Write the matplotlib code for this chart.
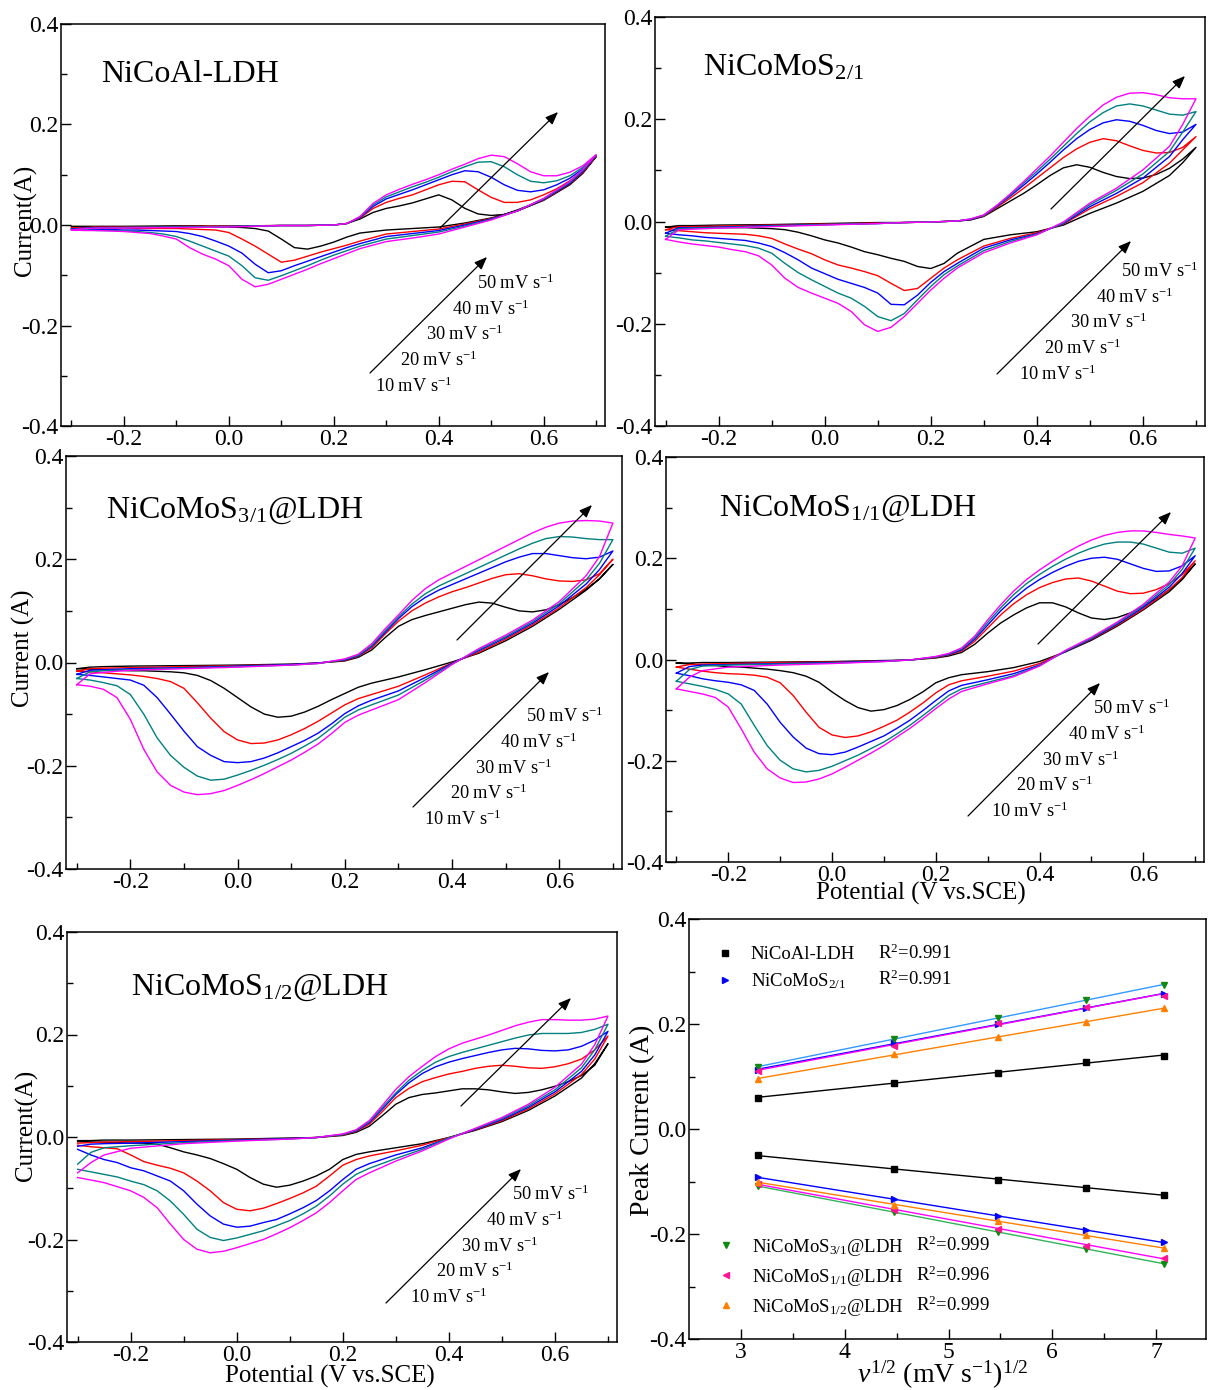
import matplotlib
matplotlib.use("Agg")
import matplotlib.pyplot as plt
import numpy as np
from matplotlib.lines import Line2D
from matplotlib.patches import FancyArrowPatch
from matplotlib.ticker import FixedLocator

plt.rcParams["font.family"] = ["Liberation Serif", "DejaVu Serif"]
plt.rcParams["mathtext.fontset"] = "custom"
plt.rcParams["mathtext.rm"] = "Liberation Serif"
plt.rcParams["mathtext.it"] = "Liberation Serif:italic"
plt.rcParams["mathtext.bf"] = "Liberation Serif:bold"
plt.rcParams["axes.unicode_minus"] = False

W, H = 1208, 1390

# potential grids (V vs SCE) for the forward (anodic) and reverse (cathodic) sweeps
E_FWD = [-0.3, -0.275, -0.25, -0.2, -0.1, 0.0, 0.1, 0.15,
         0.2, 0.225, 0.25, 0.275, 0.3, 0.325, 0.35, 0.375, 0.4, 0.425, 0.45, 0.475,
         0.5, 0.525, 0.55, 0.575, 0.6, 0.625, 0.65, 0.675, 0.7]
E_REV = [-0.3, -0.275, -0.25, -0.225, -0.2, -0.175, -0.15, -0.125, -0.1, -0.075, -0.05, -0.025,
         0.0, 0.025, 0.05, 0.075, 0.1, 0.125, 0.15, 0.175, 0.2, 0.225, 0.25,
         0.3, 0.35, 0.4, 0.45, 0.5, 0.55, 0.6, 0.65, 0.675, 0.7]

RATES = [10, 20, 30, 40, 50]
COLORS = ["black", "red", "blue", "#008080", "magenta"]

# ---- NiCoAl-LDH, current (A), rows = 10..50 mV/s
ldh_fwd = [
    [-0.003, -0.003, -0.003, -0.003, -0.002, -0.002, -0.001, -0.001,
     0.000, 0.003, 0.012, 0.025, 0.033, 0.038, 0.044, 0.052, 0.060, 0.050, 0.033, 0.022,
     0.019, 0.021, 0.030, 0.040, 0.052, 0.066, 0.083, 0.105, 0.136],
    [-0.006, -0.005, -0.004, -0.004, -0.003, -0.002, -0.001, -0.001,
     0.000, 0.003, 0.014, 0.033, 0.045, 0.053, 0.060, 0.070, 0.080, 0.087, 0.086, 0.070,
     0.055, 0.045, 0.045, 0.050, 0.060, 0.072, 0.088, 0.108, 0.137],
    [-0.008, -0.006, -0.005, -0.005, -0.004, -0.003, -0.001, -0.001,
     0.000, 0.003, 0.015, 0.037, 0.052, 0.061, 0.070, 0.080, 0.090, 0.100, 0.108, 0.106,
     0.095, 0.080, 0.069, 0.066, 0.070, 0.080, 0.093, 0.112, 0.138],
    [-0.009, -0.007, -0.006, -0.005, -0.004, -0.003, -0.001, -0.001,
     0.000, 0.003, 0.016, 0.040, 0.056, 0.066, 0.076, 0.085, 0.095, 0.106, 0.116, 0.125,
     0.126, 0.116, 0.100, 0.087, 0.084, 0.088, 0.098, 0.115, 0.139],
    [-0.010, -0.007, -0.006, -0.006, -0.005, -0.004, -0.001, -0.001,
     0.000, 0.003, 0.017, 0.043, 0.060, 0.071, 0.081, 0.090, 0.100, 0.111, 0.121, 0.132,
     0.139, 0.136, 0.122, 0.106, 0.098, 0.098, 0.105, 0.118, 0.140],
]
ldh_rev = [
    [-0.003, -0.003, -0.003, -0.003, -0.003, -0.003, -0.003, -0.003, -0.003, -0.003, -0.003, -0.004,
     -0.004, -0.005, -0.007, -0.012, -0.028, -0.045, -0.048, -0.042, -0.034, -0.024, -0.016,
     -0.010, -0.007, -0.004, 0.004, 0.014, 0.028, 0.049, 0.080, 0.103, 0.136],
    [-0.006, -0.006, -0.006, -0.006, -0.006, -0.007, -0.007, -0.007, -0.007, -0.008, -0.009, -0.010,
     -0.015, -0.028, -0.042, -0.058, -0.074, -0.070, -0.062, -0.054, -0.047, -0.040, -0.032,
     -0.018, -0.013, -0.008, 0.002, 0.013, 0.028, 0.050, 0.082, 0.105, 0.137],
    [-0.008, -0.008, -0.009, -0.009, -0.010, -0.010, -0.011, -0.012, -0.013, -0.017, -0.023, -0.032,
     -0.042, -0.056, -0.078, -0.095, -0.091, -0.081, -0.072, -0.063, -0.054, -0.045, -0.037,
     -0.023, -0.017, -0.011, 0.000, 0.012, 0.028, 0.051, 0.083, 0.107, 0.138],
    [-0.009, -0.010, -0.011, -0.011, -0.012, -0.013, -0.015, -0.018, -0.023, -0.032, -0.042, -0.052,
     -0.062, -0.081, -0.105, -0.110, -0.101, -0.091, -0.081, -0.070, -0.060, -0.051, -0.042,
     -0.028, -0.021, -0.014, -0.002, 0.011, 0.028, 0.052, 0.085, 0.109, 0.139],
    [-0.010, -0.011, -0.011, -0.012, -0.013, -0.015, -0.017, -0.022, -0.028, -0.045, -0.058, -0.068,
     -0.081, -0.108, -0.123, -0.118, -0.108, -0.098, -0.088, -0.077, -0.067, -0.057, -0.047,
     -0.033, -0.026, -0.018, -0.004, 0.010, 0.028, 0.053, 0.087, 0.111, 0.140],
]

# ---- NiCoMoS 2/1
mos21_fwd = [
    [-0.011, -0.008, -0.008, -0.007, -0.006, -0.004, -0.002, -0.002,
     -0.001, 0.000, 0.001, 0.003, 0.010, 0.025, 0.040, 0.055, 0.072, 0.090, 0.105, 0.111,
     0.106, 0.096, 0.088, 0.084, 0.085, 0.092, 0.104, 0.122, 0.145],
    [-0.016, -0.010, -0.010, -0.009, -0.007, -0.005, -0.003, -0.002,
     -0.001, 0.000, 0.001, 0.004, 0.011, 0.028, 0.046, 0.065, 0.085, 0.105, 0.125, 0.142,
     0.155, 0.162, 0.158, 0.148, 0.139, 0.134, 0.135, 0.145, 0.166],
    [-0.023, -0.012, -0.012, -0.011, -0.008, -0.006, -0.004, -0.002,
     -0.001, 0.000, 0.001, 0.004, 0.012, 0.030, 0.050, 0.071, 0.093, 0.116, 0.140, 0.162,
     0.180, 0.193, 0.199, 0.196, 0.188, 0.178, 0.172, 0.175, 0.190],
    [-0.029, -0.014, -0.013, -0.012, -0.009, -0.006, -0.004, -0.002,
     -0.001, 0.000, 0.001, 0.005, 0.012, 0.031, 0.052, 0.075, 0.098, 0.122, 0.147, 0.172,
     0.195, 0.213, 0.226, 0.230, 0.226, 0.218, 0.210, 0.208, 0.215],
    [-0.035, -0.016, -0.015, -0.013, -0.010, -0.007, -0.004, -0.002,
     -0.001, 0.000, 0.001, 0.005, 0.013, 0.032, 0.054, 0.078, 0.103, 0.128, 0.155, 0.182,
     0.206, 0.228, 0.243, 0.251, 0.252, 0.248, 0.242, 0.240, 0.240],
]
mos21_rev = [
    [-0.011, -0.011, -0.012, -0.012, -0.012, -0.012, -0.012, -0.013, -0.014, -0.016, -0.021, -0.028,
     -0.036, -0.042, -0.050, -0.059, -0.065, -0.072, -0.078, -0.088, -0.092, -0.082, -0.062,
     -0.035, -0.026, -0.020, -0.007, 0.016, 0.036, 0.059, 0.090, 0.115, 0.145],
    [-0.016, -0.018, -0.020, -0.022, -0.023, -0.024, -0.025, -0.028, -0.033, -0.044, -0.054, -0.063,
     -0.075, -0.085, -0.091, -0.098, -0.106, -0.121, -0.135, -0.131, -0.111, -0.091, -0.075,
     -0.048, -0.033, -0.022, -0.005, 0.025, 0.049, 0.076, 0.114, 0.140, 0.166],
    [-0.023, -0.026, -0.028, -0.031, -0.033, -0.035, -0.037, -0.042, -0.049, -0.061, -0.075, -0.091,
     -0.102, -0.113, -0.121, -0.129, -0.140, -0.162, -0.163, -0.144, -0.119, -0.098, -0.082,
     -0.052, -0.036, -0.024, -0.004, 0.029, 0.055, 0.085, 0.127, 0.160, 0.190],
    [-0.029, -0.032, -0.036, -0.038, -0.041, -0.044, -0.047, -0.052, -0.062, -0.082, -0.100, -0.114,
     -0.127, -0.140, -0.150, -0.166, -0.186, -0.194, -0.180, -0.153, -0.127, -0.104, -0.087,
     -0.057, -0.039, -0.025, -0.003, 0.033, 0.061, 0.093, 0.137, 0.175, 0.215],
    [-0.035, -0.040, -0.044, -0.047, -0.050, -0.055, -0.059, -0.067, -0.085, -0.111, -0.129, -0.140,
     -0.150, -0.160, -0.176, -0.202, -0.215, -0.207, -0.186, -0.160, -0.134, -0.111, -0.091,
     -0.061, -0.042, -0.026, -0.001, 0.036, 0.065, 0.101, 0.147, 0.190, 0.240],
]

# ---- NiCoMoS 3/1 @LDH
mos31_fwd = [
    [-0.012, -0.009, -0.008, -0.007, -0.006, -0.005, -0.003, -0.001,
     0.003, 0.010, 0.024, 0.048, 0.070, 0.083, 0.091, 0.098, 0.105, 0.112, 0.117, 0.115,
     0.107, 0.100, 0.098, 0.102, 0.112, 0.126, 0.142, 0.162, 0.190],
    [-0.017, -0.012, -0.011, -0.010, -0.008, -0.006, -0.004, -0.001,
     0.004, 0.012, 0.028, 0.055, 0.080, 0.100, 0.115, 0.127, 0.137, 0.145, 0.154, 0.163,
     0.170, 0.172, 0.168, 0.162, 0.158, 0.157, 0.160, 0.172, 0.200],
    [-0.023, -0.015, -0.014, -0.012, -0.010, -0.007, -0.004, -0.001,
     0.005, 0.013, 0.031, 0.058, 0.085, 0.108, 0.126, 0.140, 0.151, 0.162, 0.173, 0.184,
     0.195, 0.204, 0.211, 0.211, 0.207, 0.203, 0.201, 0.204, 0.216],
    [-0.031, -0.018, -0.016, -0.014, -0.011, -0.008, -0.005, -0.002,
     0.006, 0.014, 0.033, 0.061, 0.088, 0.113, 0.133, 0.148, 0.160, 0.172, 0.184, 0.196,
     0.208, 0.220, 0.231, 0.240, 0.244, 0.243, 0.240, 0.238, 0.238],
    [-0.043, -0.022, -0.019, -0.015, -0.012, -0.009, -0.005, -0.002,
     0.007, 0.016, 0.036, 0.065, 0.092, 0.120, 0.143, 0.160, 0.173, 0.186, 0.199, 0.212,
     0.225, 0.238, 0.251, 0.262, 0.270, 0.274, 0.275, 0.274, 0.270],
]
mos31_rev = [
    [-0.012, -0.013, -0.014, -0.015, -0.016, -0.016, -0.017, -0.018, -0.020, -0.025, -0.035, -0.050,
     -0.068, -0.086, -0.100, -0.106, -0.104, -0.096, -0.085, -0.072, -0.060, -0.048, -0.040,
     -0.028, -0.014, 0.001, 0.018, 0.042, 0.070, 0.103, 0.140, 0.162, 0.190],
    [-0.017, -0.018, -0.020, -0.022, -0.024, -0.027, -0.031, -0.037, -0.050, -0.078, -0.108, -0.134,
     -0.150, -0.157, -0.156, -0.150, -0.140, -0.128, -0.114, -0.098, -0.082, -0.070, -0.062,
     -0.046, -0.024, -0.001, 0.020, 0.045, 0.073, 0.106, 0.145, 0.170, 0.200],
    [-0.023, -0.025, -0.028, -0.031, -0.034, -0.044, -0.068, -0.100, -0.133, -0.163, -0.180, -0.192,
     -0.194, -0.192, -0.185, -0.175, -0.163, -0.151, -0.137, -0.119, -0.099, -0.084, -0.073,
     -0.055, -0.029, -0.002, 0.023, 0.048, 0.076, 0.110, 0.152, 0.180, 0.216],
    [-0.031, -0.034, -0.039, -0.045, -0.062, -0.100, -0.146, -0.180, -0.203, -0.220, -0.228, -0.226,
     -0.218, -0.209, -0.199, -0.188, -0.176, -0.162, -0.147, -0.127, -0.106, -0.092, -0.082,
     -0.063, -0.034, -0.003, 0.025, 0.050, 0.079, 0.114, 0.160, 0.192, 0.238],
    [-0.043, -0.046, -0.052, -0.068, -0.110, -0.168, -0.212, -0.238, -0.251, -0.256, -0.254, -0.248,
     -0.238, -0.227, -0.215, -0.202, -0.189, -0.174, -0.158, -0.138, -0.116, -0.102, -0.092,
     -0.072, -0.039, -0.004, 0.027, 0.053, 0.082, 0.118, 0.168, 0.205, 0.270],
]

# ---- NiCoMoS 1/1 @LDH
mos11_fwd = [
    [-0.007, -0.007, -0.006, -0.006, -0.005, -0.004, -0.002, -0.001,
     0.003, 0.007, 0.014, 0.030, 0.052, 0.072, 0.088, 0.102, 0.112, 0.112, 0.104, 0.092,
     0.082, 0.079, 0.083, 0.092, 0.105, 0.120, 0.138, 0.160, 0.189],
    [-0.015, -0.010, -0.009, -0.008, -0.006, -0.005, -0.003, -0.001,
     0.004, 0.009, 0.017, 0.036, 0.062, 0.088, 0.110, 0.128, 0.142, 0.152, 0.159, 0.161,
     0.155, 0.145, 0.135, 0.130, 0.131, 0.138, 0.150, 0.168, 0.195],
    [-0.027, -0.014, -0.011, -0.010, -0.008, -0.006, -0.003, -0.001,
     0.005, 0.010, 0.019, 0.040, 0.068, 0.096, 0.120, 0.141, 0.158, 0.172, 0.184, 0.194,
     0.200, 0.202, 0.198, 0.189, 0.180, 0.174, 0.175, 0.185, 0.205],
    [-0.043, -0.020, -0.013, -0.011, -0.009, -0.007, -0.004, -0.001,
     0.005, 0.011, 0.021, 0.043, 0.073, 0.102, 0.128, 0.150, 0.168, 0.184, 0.198, 0.210,
     0.220, 0.228, 0.232, 0.232, 0.228, 0.220, 0.212, 0.210, 0.220],
    [-0.058, -0.035, -0.022, -0.015, -0.011, -0.008, -0.004, -0.001,
     0.006, 0.012, 0.023, 0.046, 0.078, 0.108, 0.135, 0.158, 0.177, 0.194, 0.210, 0.224,
     0.236, 0.245, 0.251, 0.254, 0.254, 0.251, 0.247, 0.244, 0.240],
]
mos11_rev = [
    [-0.007, -0.009, -0.011, -0.012, -0.014, -0.015, -0.017, -0.019, -0.022, -0.026, -0.033, -0.045,
     -0.064, -0.081, -0.095, -0.102, -0.099, -0.091, -0.079, -0.064, -0.046, -0.036, -0.030,
     -0.024, -0.016, -0.004, 0.015, 0.038, 0.066, 0.098, 0.134, 0.158, 0.189],
    [-0.015, -0.019, -0.023, -0.026, -0.028, -0.029, -0.031, -0.035, -0.046, -0.071, -0.104, -0.134,
     -0.149, -0.154, -0.151, -0.143, -0.132, -0.120, -0.104, -0.086, -0.066, -0.050, -0.042,
     -0.033, -0.023, -0.008, 0.016, 0.040, 0.068, 0.100, 0.138, 0.162, 0.195],
    [-0.027, -0.032, -0.038, -0.042, -0.045, -0.050, -0.061, -0.088, -0.124, -0.153, -0.175, -0.186,
     -0.188, -0.183, -0.173, -0.162, -0.151, -0.136, -0.120, -0.101, -0.081, -0.062, -0.051,
     -0.040, -0.028, -0.011, 0.016, 0.041, 0.070, 0.103, 0.143, 0.170, 0.205],
    [-0.043, -0.048, -0.053, -0.059, -0.068, -0.088, -0.130, -0.170, -0.199, -0.216, -0.222, -0.219,
     -0.211, -0.200, -0.189, -0.176, -0.163, -0.147, -0.130, -0.111, -0.091, -0.071, -0.058,
     -0.045, -0.032, -0.012, 0.017, 0.042, 0.072, 0.106, 0.148, 0.178, 0.220],
    [-0.058, -0.063, -0.068, -0.075, -0.094, -0.137, -0.183, -0.216, -0.234, -0.243, -0.242, -0.236,
     -0.226, -0.213, -0.199, -0.185, -0.170, -0.153, -0.136, -0.117, -0.097, -0.078, -0.063,
     -0.048, -0.034, -0.013, 0.018, 0.044, 0.074, 0.109, 0.153, 0.185, 0.240],
]

# ---- NiCoMoS 1/2 @LDH
mos12_fwd = [
    [-0.007, -0.007, -0.006, -0.006, -0.005, -0.004, -0.002, -0.001,
     0.003, 0.009, 0.021, 0.042, 0.064, 0.077, 0.083, 0.086, 0.090, 0.094, 0.094, 0.092,
     0.088, 0.085, 0.087, 0.092, 0.099, 0.108, 0.120, 0.140, 0.182],
    [-0.012, -0.011, -0.010, -0.009, -0.007, -0.005, -0.003, -0.001,
     0.004, 0.011, 0.025, 0.050, 0.077, 0.095, 0.108, 0.116, 0.123, 0.128, 0.134, 0.138,
     0.140, 0.138, 0.135, 0.134, 0.137, 0.143, 0.152, 0.170, 0.197],
    [-0.018, -0.014, -0.013, -0.012, -0.009, -0.006, -0.003, -0.001,
     0.005, 0.012, 0.028, 0.055, 0.083, 0.106, 0.124, 0.137, 0.146, 0.153, 0.159, 0.165,
     0.170, 0.173, 0.172, 0.169, 0.168, 0.170, 0.177, 0.189, 0.206],
    [-0.053, -0.030, -0.021, -0.017, -0.011, -0.007, -0.004, -0.001,
     0.005, 0.013, 0.030, 0.058, 0.086, 0.111, 0.130, 0.146, 0.157, 0.165, 0.172, 0.179,
     0.186, 0.193, 0.199, 0.202, 0.202, 0.202, 0.204, 0.210, 0.220],
    [-0.070, -0.050, -0.035, -0.022, -0.013, -0.008, -0.004, -0.001,
     0.006, 0.014, 0.032, 0.062, 0.093, 0.118, 0.138, 0.157, 0.172, 0.183, 0.191, 0.199,
     0.208, 0.217, 0.224, 0.229, 0.229, 0.228, 0.228, 0.230, 0.236],
]
mos12_rev = [
    [-0.009, -0.010, -0.010, -0.011, -0.012, -0.012, -0.014, -0.021, -0.029, -0.035, -0.042, -0.052,
     -0.063, -0.079, -0.092, -0.098, -0.094, -0.086, -0.076, -0.063, -0.044, -0.034, -0.029,
     -0.021, -0.013, -0.001, 0.013, 0.030, 0.052, 0.080, 0.115, 0.143, 0.182],
    [-0.016, -0.019, -0.021, -0.023, -0.035, -0.048, -0.055, -0.061, -0.070, -0.086, -0.105, -0.128,
     -0.141, -0.144, -0.139, -0.130, -0.120, -0.109, -0.096, -0.076, -0.055, -0.044, -0.037,
     -0.027, -0.016, -0.001, 0.014, 0.032, 0.055, 0.084, 0.122, 0.152, 0.197],
    [-0.024, -0.035, -0.044, -0.050, -0.060, -0.066, -0.076, -0.086, -0.105, -0.131, -0.154, -0.170,
     -0.176, -0.174, -0.167, -0.161, -0.150, -0.138, -0.124, -0.105, -0.083, -0.063, -0.052,
     -0.035, -0.021, -0.002, 0.015, 0.034, 0.058, 0.088, 0.128, 0.160, 0.206],
    [-0.063, -0.068, -0.073, -0.078, -0.086, -0.093, -0.105, -0.125, -0.151, -0.180, -0.196, -0.202,
     -0.197, -0.190, -0.183, -0.173, -0.163, -0.150, -0.135, -0.115, -0.092, -0.073, -0.061,
     -0.042, -0.024, -0.002, 0.016, 0.036, 0.061, 0.092, 0.135, 0.170, 0.220],
    [-0.079, -0.084, -0.089, -0.097, -0.105, -0.118, -0.138, -0.170, -0.200, -0.219, -0.226, -0.223,
     -0.216, -0.208, -0.200, -0.189, -0.177, -0.163, -0.148, -0.128, -0.105, -0.083, -0.070,
     -0.047, -0.027, -0.004, 0.017, 0.038, 0.064, 0.097, 0.142, 0.180, 0.236],
]

# ---- peak currents vs sqrt(scan rate)
ldh_ipa = [0.060, 0.088, 0.107, 0.127, 0.140]
ldh_ipc = [-0.050, -0.076, -0.097, -0.112, -0.125]
mos21_ipa = [0.113, 0.163, 0.200, 0.231, 0.257]
mos21_ipc = [-0.092, -0.134, -0.165, -0.193, -0.216]
mos31_ipa = [0.118, 0.172, 0.212, 0.245, 0.275]
mos31_ipc = [-0.109, -0.158, -0.196, -0.228, -0.257]
mos11_ipa = [0.111, 0.159, 0.202, 0.233, 0.254]
mos11_ipc = [-0.104, -0.154, -0.190, -0.222, -0.245]
mos12_ipa = [0.096, 0.142, 0.175, 0.203, 0.231]
mos12_ipc = [-0.101, -0.144, -0.176, -0.202, -0.227]
r2_values = ["0.991", "0.991", "0.999", "0.996", "0.999"]


def fx(x):
    return x / W


def fy(y):
    return 1 - y / H


def add_axes(fig, left, top, right, bottom):
    return fig.add_axes([left / W, 1 - bottom / H, (right - left) / W, (bottom - top) / H])


def style_axes(ax):
    for sp in ax.spines.values():
        sp.set_linewidth(1.1)
    ax.tick_params(which="both", direction="in", top=False, right=False,
                   labelsize=17, pad=2, width=1.0)
    ax.tick_params(which="major", length=7)
    ax.tick_params(which="minor", length=4)


def arrow(fig, x0, y0, x1, y1):
    fig.add_artist(FancyArrowPatch(
        (fx(x0), fy(y0)), (fx(x1), fy(y1)), transform=fig.transFigure,
        arrowstyle="-|>,head_length=0.55,head_width=0.22", mutation_scale=14,
        lw=0.9, color="black", shrinkA=0, shrinkB=0))


def cv_panel(fig, box, fwd, rev, title, title_xy, hi, lo, lab10):
    ax = add_axes(fig, *box)
    e_loop = list(E_FWD) + list(E_REV[::-1])
    for k in range(len(RATES)):
        ax.plot(e_loop, list(fwd[k]) + list(rev[k][::-1]), color=COLORS[k], lw=1.0)
    ax.set_xlim(-0.32, 0.717)
    ax.set_ylim(-0.4, 0.4)
    ax.xaxis.set_major_locator(FixedLocator([-0.2, 0.0, 0.2, 0.4, 0.6]))
    ax.xaxis.set_minor_locator(FixedLocator([-0.3, -0.1, 0.1, 0.3, 0.5, 0.7]))
    ax.yaxis.set_major_locator(FixedLocator([-0.4, -0.2, 0.0, 0.2, 0.4]))
    ax.yaxis.set_minor_locator(FixedLocator([-0.3, -0.1, 0.1, 0.3]))
    ax.set_xticklabels(["-0.2", "0.0", "0.2", "0.4", "0.6"])
    ax.set_yticklabels(["-0.4", "-0.2", "0.0", "0.2", "0.4"])
    style_axes(ax)
    fig.text(fx(title_xy[0]), fy(title_xy[1]), title, fontsize=23, va="baseline", ha="left")
    arrow(fig, *hi)
    arrow(fig, *lo)
    for k, r in enumerate(RATES):
        fig.text(fx(lab10[0] + 25.5 * k), fy(lab10[1] - 25.75 * k),
                 "%d mV s$^{-1}$" % r, fontsize=13.2, va="baseline", ha="left")
    return ax


fig = plt.figure(figsize=(W / 100, H / 100), dpi=100)

cv_panel(fig, (61, 24, 605, 426), ldh_fwd, ldh_rev, "NiCoAl-LDH", (101, 82),
         (440, 228, 558, 112), (370, 373, 487, 257), (375, 392))
cv_panel(fig, (655, 17, 1205, 426), mos21_fwd, mos21_rev, "NiCoMoS$_{2/1}$", (703, 75),
         (1051, 209, 1185, 76), (997, 374, 1131, 241), (1019, 380))
cv_panel(fig, (66, 456, 622, 869), mos31_fwd, mos31_rev, "NiCoMoS$_{3/1}$@LDH", (106, 518),
         (457, 640, 592, 505), (413, 807, 549, 672), (424, 825))
cv_panel(fig, (666, 457, 1204, 862), mos11_fwd, mos11_rev, "NiCoMoS$_{1/1}$@LDH", (719, 516),
         (1038, 644, 1171, 512), (968, 816, 1100, 683), (991, 817))
cv_panel(fig, (67, 932, 617, 1342), mos12_fwd, mos12_rev, "NiCoMoS$_{1/2}$@LDH", (131, 995),
         (461, 1106, 571, 998), (386, 1303, 521, 1169), (410, 1303))

fig.text(fx(25), fy(220), "Current(A)", rotation=90, fontsize=18, ha="center", va="center")
fig.text(fx(23), fy(648), "Current (A)", rotation=90, fontsize=18, ha="center", va="center")
fig.text(fx(26), fy(1125), "Current(A)", rotation=90, fontsize=18, ha="center", va="center")
fig.text(fx(921), fy(900), "Potential (V vs.SCE)", fontsize=18, ha="center", va="baseline")
fig.text(fx(330), fy(1383), "Potential (V vs.SCE)", fontsize=18, ha="center", va="baseline")

# ---- peak current panel
ax6 = add_axes(fig, 689, 919, 1206, 1339)
sqrt_rate = np.sqrt(RATES)
series = [
    ("NiCoAl-LDH", ldh_ipa, ldh_ipc, "s", "black", "black", "black"),
    ("NiCoMoS$_{2/1}$", mos21_ipa, mos21_ipc, ">", "blue", "blue", "blue"),
    ("NiCoMoS$_{3/1}$@LDH", mos31_ipa, mos31_ipc, "v", "#118811", "#3399ff", "#33b35a"),
    ("NiCoMoS$_{1/1}$@LDH", mos11_ipa, mos11_ipc, "<", "#ff1493", "magenta", "magenta"),
    ("NiCoMoS$_{1/2}$@LDH", mos12_ipa, mos12_ipc, "^", "#ff8000", "#ff8000", "#ff8000"),
]
handles = []
for name, ipa, ipc, mk, mcol, lca, lcc in series:
    for vals, lc in ((ipa, lca), (ipc, lcc)):
        k, b = np.polyfit(sqrt_rate, vals, 1)
        ends = np.array([sqrt_rate[0], sqrt_rate[-1]])
        ax6.plot(ends, k * ends + b, color=lc, lw=1.0, zorder=2)
for name, ipa, ipc, mk, mcol, lca, lcc in series:
    ax6.plot(sqrt_rate, ipa, ls="none", marker=mk, ms=5, color=mcol, zorder=3)
    ax6.plot(sqrt_rate, ipc, ls="none", marker=mk, ms=5, color=mcol, zorder=3)
    handles.append(Line2D([], [], ls="none", marker=mk, ms=4, color=mcol))

ax6.set_xlim(2.5, 7.48)
ax6.set_ylim(-0.4, 0.4)
ax6.xaxis.set_major_locator(FixedLocator([3, 4, 5, 6, 7]))
ax6.xaxis.set_minor_locator(FixedLocator([3.5, 4.5, 5.5, 6.5]))
ax6.yaxis.set_major_locator(FixedLocator([-0.4, -0.2, 0.0, 0.2, 0.4]))
ax6.yaxis.set_minor_locator(FixedLocator([-0.3, -0.1, 0.1, 0.3]))
ax6.set_xticklabels(["3", "4", "5", "6", "7"])
ax6.set_yticklabels(["-0.4", "-0.2", "0.0", "0.2", "0.4"])
style_axes(ax6)

names = [s[0] for s in series]
leg_kw = dict(frameon=False, fontsize=13.5, handlelength=1.0, handletextpad=0.85,
              borderpad=0, borderaxespad=0, loc="upper left", bbox_transform=fig.transFigure)
leg1 = ax6.legend(handles[:2], names[:2], bbox_to_anchor=(fx(716), fy(946)),
                  labelspacing=0.45, **leg_kw)
ax6.add_artist(leg1)
ax6.legend(handles[2:], names[2:], bbox_to_anchor=(fx(717), fy(1237)),
           labelspacing=0.48, **leg_kw)
for r2, yy in zip(r2_values, [959, 985, 1251, 1281, 1311]):
    xx = 878 if yy < 1100 else 916
    fig.text(fx(xx), fy(yy), "R$^2$=" + r2, fontsize=13.5, ha="left", va="baseline")

fig.text(fx(643), fy(1120), "Peak Current (A)", rotation=90, fontsize=20,
         ha="center", va="center")
fig.text(fx(943), fy(1383), r"$\mathit{v}^{1/2}$ (mV s$^{-1}$)$^{1/2}$", fontsize=20,
         ha="center", va="baseline")

fig.savefig("out.png", dpi=100)
